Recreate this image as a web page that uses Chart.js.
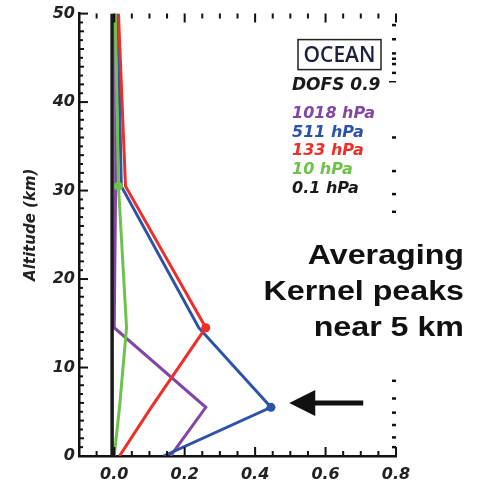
<!DOCTYPE html>
<html>
<head>
<meta charset="utf-8">
<script src="https://cdn.jsdelivr.net/npm/chart.js@4"></script>
<style>
  html, body { margin: 0; padding: 0; background: #fff; }
  #wrap { width: 481px; height: 485px; }
</style>
</head>
<body>
<div id="wrap"><canvas id="akChart" width="481" height="485"></canvas></div>
<script>
// Höhenstufen (km) und Averaging-Kernel-Werte je Druckniveau
const altitudes = [0, 5.5, 14.5, 30.5, 50];
const ak1018 = [0.16, 0.26, 0.0, 0.004, 0.004];
const ak511 = [0.14, 0.445, 0.24, 0.02, 0.01];
const ak133 = [0.015, 0.105, 0.26, 0.032, 0.012];
const ak10 = [0.0, 0.015, 0.035, 0.012, 0.003];
const ak01 = [-0.006, -0.006, -0.006, -0.006, -0.006];

// Achsenbeschriftungen
const xTicks = [0.0, 0.2, 0.4, 0.6, 0.8];
const yTicks = [0, 10, 20, 30, 40, 50];
const rightTickAlt = [48.7, 47.1, 45.5, 44.9, 44.3, 43.3, 36.0, 32.2, 29.6, 27.6, 8.5, 6.5, 4.9, 3.5, 2.1, 1.0];
const rightMajorAlt = [42.3];
const legendLabels = ['1018 hPa', '511 hPa', '133 hPa', '10 hPa', '0.1 hPa'];
const noteLines = ['Averaging', 'Kernel peaks', 'near 5 km'];

const colors = ['#8446a6', '#2c53a8', '#ee2e28', '#6cc24a', '#1a1a1a'];
const axisFont = { family: 'DejaVu Sans', size: 16, weight: 'bold', style: 'italic' };

function toPoints(values) {
    return values.map((v, i) => ({ x: v, y: altitudes[i] }));
}

// Marker nur am jeweiligen Niveau
function markerAt(index) {
    return altitudes.map((a, i) => (i === index ? 4.5 : 0));
}

const series = [ak01, ak10, ak133, ak511, ak1018];
const seriesColors = [colors[4], colors[3], colors[2], colors[1], colors[0]];
const seriesMarker = [-1, 3, 2, 1, -1];

const datasets = series.map((values, i) => ({
    label: legendLabels[4 - i],
    data: toPoints(values),
    borderColor: seriesColors[i],
    backgroundColor: seriesColors[i],
    borderWidth: i === 0 ? 3.5 : 3,
    pointRadius: markerAt(seriesMarker[i]),
    pointBorderWidth: 0,
    tension: 0,
    order: i === 0 ? -1 : i
}));

// Plugin: Ticks nach innen, Achsentitel, Legende, Text und Pfeil
const decorPlugin = {
    id: 'decor',
    afterDraw(chart) {
        const ctx = chart.ctx;
        const area = chart.chartArea;
        const xs = chart.scales.x;
        const ys = chart.scales.y;
        ctx.save();
        ctx.strokeStyle = '#111';
        ctx.lineWidth = 2;

        // x-Ticks oben und unten
        for (let v = -0.1; v <= 0.8001; v += 0.05) {
            const px = xs.getPixelForValue(v);
            const major = Math.abs(Math.round(v * 10) / 10 - v) < 1e-6 && Math.round(v * 10) % 2 === 0;
            const len = major ? 9 : 5;
            ctx.beginPath();
            ctx.moveTo(px, area.bottom); ctx.lineTo(px, area.bottom - len);
            ctx.moveTo(px, area.top); ctx.lineTo(px, area.top + len);
            ctx.stroke();
        }
        // y-Ticks links
        for (let v = 0; v <= 50; v += 1) {
            const py = ys.getPixelForValue(v);
            const len = v % 10 === 0 ? 9 : (v % 2 === 0 ? 5 : 4);
            ctx.beginPath();
            ctx.moveTo(area.left, py); ctx.lineTo(area.left + len, py);
            ctx.stroke();
        }
        // y-Ticks rechts (Druckachse)
        ctx.lineWidth = 2.5;
        rightTickAlt.forEach(a => {
            const py = ys.getPixelForValue(a);
            ctx.beginPath();
            ctx.moveTo(area.right, py); ctx.lineTo(area.right - 4, py);
            ctx.stroke();
        });
        ctx.lineWidth = 1.5;
        rightMajorAlt.forEach(a => {
            const py = ys.getPixelForValue(a);
            ctx.beginPath();
            ctx.moveTo(area.right, py); ctx.lineTo(area.right - 7, py);
            ctx.stroke();
        });

        // Achsentitel y
        ctx.save();
        ctx.translate(31, (area.top + area.bottom) / 2 - 10);
        ctx.rotate(-Math.PI / 2);
        ctx.fillStyle = '#222';
        ctx.font = 'italic bold 15px "DejaVu Sans"';
        ctx.textAlign = 'center';
        ctx.textBaseline = 'middle';
        ctx.fillText('Altitude (km)', 0, 0);
        ctx.restore();

        // OCEAN-Kasten
        const boxX = area.right - 98, boxY = area.top + 26;
        ctx.lineWidth = 1.5;
        ctx.strokeStyle = '#222';
        ctx.strokeRect(boxX, boxY, 83, 30);
        ctx.fillStyle = '#1c2040';
        ctx.font = '600 21px "Open Sans"';
        ctx.textAlign = 'center';
        ctx.textBaseline = 'middle';
        ctx.fillText('OCEAN', boxX + 41.5, boxY + 16);

        // DOFS und Legende
        ctx.textAlign = 'left';
        ctx.font = 'italic bold 17px "DejaVu Sans"';
        ctx.fillStyle = '#1a1a1a';
        const tx = area.right - 104;
        ctx.fillText('DOFS 0.9', tx, area.top + 72);
        ctx.font = 'italic bold 16px "DejaVu Sans"';
        legendLabels.forEach((lab, i) => {
            ctx.fillStyle = colors[i];
            ctx.fillText(lab, tx, area.top + 100 + i * 18.8);
        });

        // Hinweistext rechts, weißer Hintergrund über der rechten Achse
        ctx.fillStyle = '#fff';
        ctx.fillRect(262, 223, 215, 135);
        ctx.fillStyle = '#111';
        ctx.font = 'bold 28px "Liberation Sans"';
        ctx.textAlign = 'right';
        ctx.textBaseline = 'alphabetic';
        noteLines.forEach((line, i) => {
            ctx.save();
            ctx.translate(464, 264 + i * 36);
            ctx.scale(1.15, 1);
            ctx.fillText(line, 0, 0);
            ctx.restore();
        });

        // Pfeil auf das Maximum bei ~5 km
        const tipX = xs.getPixelForValue(0.497);
        const tailX = xs.getPixelForValue(0.707);
        const ay = ys.getPixelForValue(6);
        ctx.strokeStyle = '#111';
        ctx.lineWidth = 5;
        ctx.beginPath();
        ctx.moveTo(tailX, ay); ctx.lineTo(tipX + 20, ay);
        ctx.stroke();
        ctx.beginPath();
        ctx.moveTo(tipX, ay);
        ctx.lineTo(tipX + 26, ay - 13);
        ctx.lineTo(tipX + 26, ay + 13);
        ctx.closePath();
        ctx.fill();

        ctx.restore();
    }
};

new Chart(document.getElementById('akChart'), {
    type: 'line',
    data: { datasets: datasets },
    options: {
        responsive: false,
        animation: false,
        layout: { padding: { top: 7, right: 85, bottom: 0, left: 0 } },
        plugins: { legend: { display: false }, tooltip: { enabled: false } },
        scales: {
            x: {
                type: 'linear',
                min: -0.1,
                max: 0.8,
                afterBuildTicks: scale => { scale.ticks = xTicks.map(v => ({ value: v })); },
                afterFit: scale => { scale.height = 29; },
                grid: { display: false, drawTicks: false },
                border: { display: true, color: '#111', width: 2.5 },
                ticks: {
                    padding: 9,
                    color: '#222',
                    font: axisFont,
                    callback: v => v.toFixed(1)
                }
            },
            y: {
                type: 'linear',
                min: 0,
                max: 50,
                afterBuildTicks: scale => { scale.ticks = yTicks.map(v => ({ value: v })); },
                afterFit: scale => { scale.width = 79; },
                grid: { display: false, drawTicks: false },
                border: { display: true, color: '#111', width: 2.5 },
                ticks: {
                    padding: 4,
                    color: '#222',
                    font: axisFont
                }
            }
        }
    },
    plugins: [decorPlugin]
});
</script>
</body>
</html>
